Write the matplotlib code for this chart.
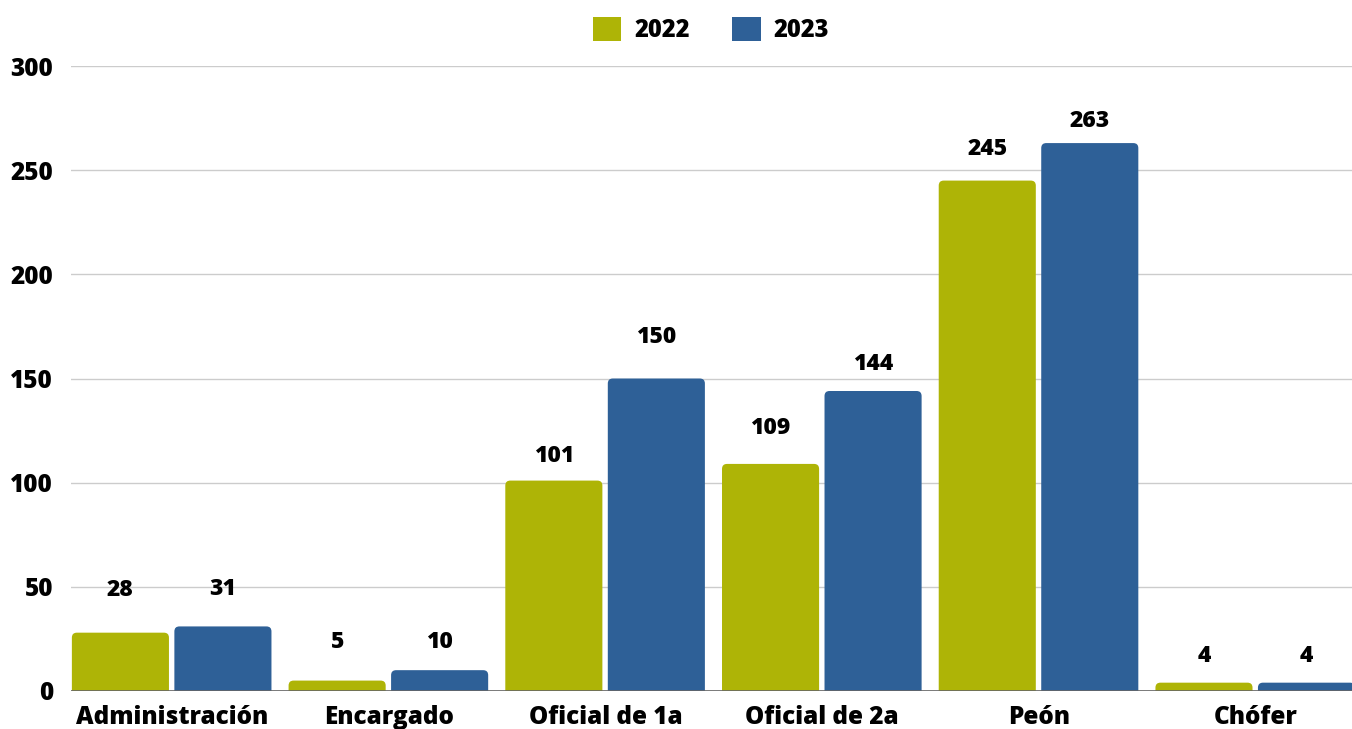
import matplotlib.pyplot as plt
from matplotlib.patches import FancyBboxPatch, Patch

plt.rcParams['font.family'] = ['Open Sans', 'DejaVu Sans']
plt.rcParams['font.weight'] = 'heavy'

# Data
categories = ['Administración', 'Encargado', 'Oficial de 1a', 'Oficial de 2a', 'Peón', 'Chófer']
values_2022 = [28, 5, 101, 109, 245, 4]
values_2023 = [31, 10, 150, 144, 263, 4]
years = ['2022', '2023']
colors = ['#AEB406', '#2E6097']

# label offsets above each bar (points), as in the original
pad_2022 = [22, 19, 9, 17, 14, 10.5]
pad_2023 = [18, 12, 21, 10.5, 7, 10.5]

fig = plt.figure(figsize=(13.52, 7.29), dpi=100)
ax = fig.add_axes([71 / 1352, 38 / 729, 1281 / 1352, 625 / 729])

ax.set_xlim(-0.466, 5.445)
ax.set_ylim(0, 300)

width = 0.448
offsets = [-0.238, 0.235]
x_scale = 1281 / (5.445 + 0.466)   # px per x unit
y_scale = 625 / 300                 # px per y unit
radius_px = 5
r_x = radius_px / x_scale
aspect = (radius_px / y_scale) / r_x

for vals, off, col, pads in zip([values_2022, values_2023], offsets, colors, [pad_2022, pad_2023]):
    for i, v in enumerate(vals):
        x0 = i + off - width / 2
        patch = FancyBboxPatch((x0, -10), width, v + 10,
                               boxstyle=f'round,pad=0,rounding_size={r_x}',
                               mutation_aspect=aspect, fc=col, ec='none', zorder=3)
        ax.add_patch(patch)
        ax.annotate(str(v), (i + off, v), xytext=(0, pads[i]), textcoords='offset points',
                    ha='center', va='bottom', fontsize=16.5, fontweight='heavy', color='black')

ax.set_yticks(range(0, 301, 50))
ax.grid(axis='y', color='#cccccc', linewidth=1, zorder=0)
ax.axhline(0, color='#666666', linewidth=1.2, zorder=4)
ax.set_xticks(range(len(categories)))
ax.set_xticklabels(categories)
ax.tick_params(axis='x', length=0, pad=10, labelsize=17.5)
ax.tick_params(axis='y', length=0, pad=13, labelsize=17.5)
for lab in ax.get_xticklabels() + ax.get_yticklabels():
    lab.set_fontweight('heavy')
for s in ax.spines.values():
    s.set_visible(False)

handles = [Patch(fc=c, ec='none') for c in colors]
fig.legend(handles, years, loc='center', bbox_to_anchor=(711 / 1352, 1 - 30 / 729),
           ncol=2, frameon=False, handlelength=1.2, handleheight=1.2,
           columnspacing=1.8, handletextpad=0.55, prop={'weight': 'heavy', 'size': 17})

fig.savefig('out.png', dpi=100)
